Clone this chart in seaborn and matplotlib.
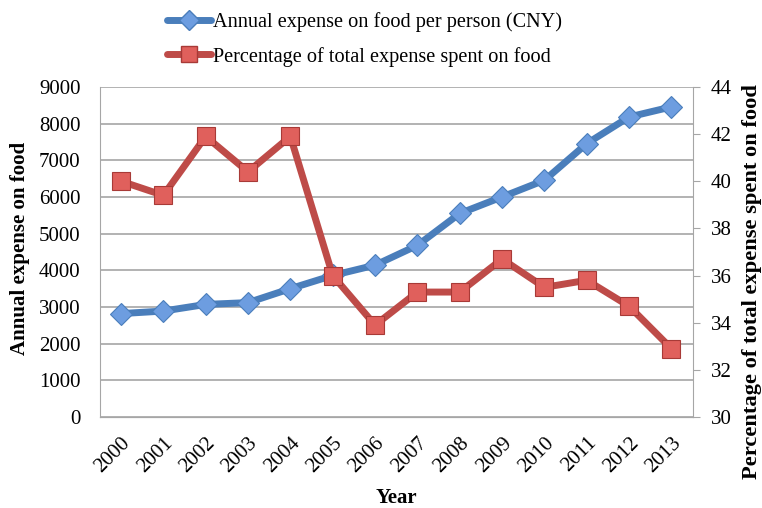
import numpy as np
import pandas as pd
import seaborn as sns
import matplotlib.pyplot as plt
from matplotlib.lines import Line2D

years = ['2000', '2001', '2002', '2003', '2004', '2005', '2006',
         '2007', '2008', '2009', '2010', '2011', '2012', '2013']
food_expense = [2820, 2890, 3070, 3120, 3500, 3860, 4140,
                4680, 5550, 6000, 6455, 7455, 8180, 8455]
food_share = [40.0, 39.4, 41.9, 40.4, 41.9, 36.0, 33.9,
              35.3, 35.3, 36.7, 35.5, 35.8, 34.7, 32.9]

df = pd.DataFrame({'idx': np.arange(len(years)), 'year': years,
                   'expense': food_expense, 'share': food_share})

sns.set_style('white')
plt.rcParams['font.family'] = ['Liberation Serif', 'DejaVu Serif']
plt.rcParams['text.color'] = 'black'
plt.rcParams['axes.labelcolor'] = 'black'

blue_line = '#4a7ebb'
blue_mark = '#6d9de0'
red_line = '#be4b48'
red_mark = '#e0605c'
grid_c = '#a6a6a6'

fig = plt.figure(figsize=(7.62, 5.08), dpi=100)
ax = fig.add_axes([0.131, 0.179, 0.778, 0.650])
ax2 = ax.twinx()

sns.lineplot(data=df, x='idx', y='expense', ax=ax, color=blue_line, lw=5,
             marker='D', markersize=11, markerfacecolor=blue_mark,
             markeredgecolor='#4a7ebb', markeredgewidth=0.8, zorder=3)
sns.lineplot(data=df, x='idx', y='share', ax=ax2, color=red_line, lw=5,
             marker='s', markersize=13, markerfacecolor=red_mark,
             markeredgecolor='#a83a37', markeredgewidth=0.8, zorder=3)

ax.set_xlim(-0.5, len(years) - 0.5)
ax.set_ylim(0, 9000)
ax.set_yticks(range(0, 9001, 1000))
ax2.set_ylim(30, 44)
ax2.set_yticks(range(30, 45, 2))
ax.set_xticks(df['idx'])
ax.set_xticklabels(years, rotation=45, ha='right', rotation_mode='anchor')

ax.grid(axis='y', color=grid_c, lw=1.2)
ax.set_axisbelow(True)
for a in (ax, ax2):
    for s in a.spines.values():
        s.set_color(grid_c)
    a.spines['top'].set_visible(False)
ax2.spines['left'].set_visible(False)
ax.spines['right'].set_visible(False)

ax.tick_params(axis='y', labelsize=15, length=0, pad=14, labelcolor='black')
ax.tick_params(axis='x', labelsize=15, length=0, pad=12, labelcolor='black')
ax2.tick_params(axis='y', labelsize=15, length=5, color=grid_c, direction='out',
                pad=8, labelcolor='black')

ax.set_xlabel('Year', fontsize=15, fontweight='bold')
ax.set_ylabel('Annual expense on food', fontsize=15, fontweight='bold')
ax2.set_ylabel('Percentage of total expense spent on food', fontsize=16.2,
               fontweight='bold')
ax.xaxis.set_label_coords(0.5, -0.215)
ax.yaxis.set_label_coords(-0.117, 0.51)
ax2.yaxis.set_label_coords(1.084, 0.41)

handles = [
    Line2D([], [], color=blue_line, lw=5, marker='D', markersize=10,
           markerfacecolor=blue_mark, markeredgecolor=blue_line),
    Line2D([], [], color=red_line, lw=5, marker='s', markersize=11,
           markerfacecolor=red_mark, markeredgecolor='#a83a37'),
]
labels = ['Annual expense on food per person (CNY)',
          'Percentage of total expense spent on food']
fig.legend(handles, labels, loc='upper left', bbox_to_anchor=(0.195, 1.012),
           frameon=False, fontsize=14.6, handlelength=2.2, handletextpad=0.1,
           labelspacing=0.72)

fig.savefig('out.png', dpi=100)
